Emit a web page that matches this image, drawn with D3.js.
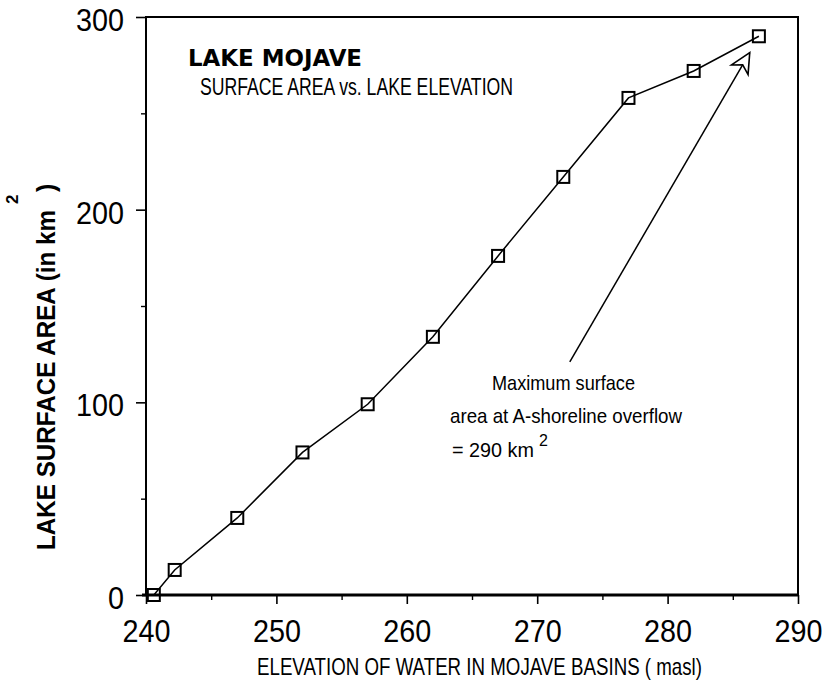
<!DOCTYPE html>
<html>
<head>
<meta charset="utf-8">
<script src="https://cdn.jsdelivr.net/npm/d3@7"></script>
<style>
  body { margin: 0; background: #fff; }
  svg { display: block; }
  .tick text { font-family: "Liberation Sans", "DejaVu Sans", sans-serif; fill: #000; }
  .lbl { font-family: "Liberation Sans", "DejaVu Sans", sans-serif; fill: #000; }
</style>
</head>
<body>
<div id="chart"></div>
<script>
// data
var elevation = [240.6, 242.2, 247, 252, 257, 262, 267, 272, 277, 282, 287];
var area = [0, 13, 40, 74, 99, 134, 176, 217, 258, 272, 290];

var xTicksMajor = [240, 250, 260, 270, 280, 290];
var xTicksMinor = [245, 255, 265, 275, 285];
var yTicksMajor = [0, 100, 200, 300];
var yTicksMinor = [50, 150, 250];

// annotation arrow (data units)
var arrowFrom = [272.5, 121];
var arrowTo = [286.3, 281.5];

var width = 829, height = 681;

var svg = d3.select("#chart").append("svg")
    .attr("width", width)
    .attr("height", height);

// set the ranges
var x = d3.scaleLinear().domain([240, 290]).range([146, 798]);
var y = d3.scaleLinear().domain([0, 300]).range([595, 17]);

// frame
svg.append("rect")
    .attr("x", x(240))
    .attr("y", y(300))
    .attr("width", x(290) - x(240))
    .attr("height", y(0) - y(300))
    .attr("fill", "none")
    .attr("stroke", "#000")
    .attr("stroke-width", 2);
// heavier bottom axis
svg.append("line")
    .attr("x1", x(240) - 4).attr("x2", x(290))
    .attr("y1", y(0)).attr("y2", y(0))
    .attr("stroke", "#000")
    .attr("stroke-width", 3);

// narrow digits like the original plotter font
function squeeze(sel) {
  sel.style("font-size", "31px")
     .attr("lengthAdjust", "spacingAndGlyphs")
     .attr("textLength", function(d) { return String(d).length * 16; });
}

// x axis
var xAxis = svg.append("g")
    .attr("transform", "translate(0," + y(0) + ")")
    .call(d3.axisBottom(x).tickValues(xTicksMajor).tickSize(9).tickPadding(16));
xAxis.select(".domain").remove();
xAxis.selectAll("line").attr("stroke-width", 1.6);
xAxis.selectAll("text").call(squeeze);

svg.append("g")
    .attr("transform", "translate(0," + y(0) + ")")
    .call(d3.axisBottom(x).tickValues(xTicksMinor).tickSize(5).tickFormat(""))
    .call(function(g) { g.select(".domain").remove(); })
    .selectAll("line").attr("stroke-width", 1.4);

// y axis
var yAxis = svg.append("g")
    .attr("transform", "translate(" + x(240) + ",0)")
    .call(d3.axisLeft(y).tickValues(yTicksMajor).tickSize(10).tickPadding(12));
yAxis.select(".domain").remove();
yAxis.selectAll("line").attr("stroke-width", 1.6);
yAxis.selectAll("text").call(squeeze).attr("dy", "0.44em");

svg.append("g")
    .attr("transform", "translate(" + x(240) + ",0)")
    .call(d3.axisLeft(y).tickValues(yTicksMinor).tickSize(5).tickFormat(""))
    .call(function(g) { g.select(".domain").remove(); })
    .selectAll("line").attr("stroke-width", 1.4);

// line
var pts = elevation.map(function(d, i) { return [d, area[i]]; });
svg.append("path")
    .datum(pts)
    .attr("fill", "none")
    .attr("stroke", "#000")
    .attr("stroke-width", 1.5)
    .attr("d", d3.line().x(function(d) { return x(d[0]); }).y(function(d) { return y(d[1]); }));

// square markers
svg.selectAll(".dot")
    .data(pts)
    .enter()
    .append("rect")
    .attr("class", "dot")
    .attr("x", function(d) { return x(d[0]) - 6; })
    .attr("y", function(d) { return y(d[1]) - 6; })
    .attr("width", 12)
    .attr("height", 12)
    .attr("fill", "none")
    .attr("stroke", "#000")
    .attr("stroke-width", 2);

// title
svg.append("text")
    .attr("class", "lbl")
    .attr("x", 188).attr("y", 66)
    .attr("textLength", 174)
    .attr("lengthAdjust", "spacingAndGlyphs")
    .style("font-family", "'DejaVu Sans', sans-serif")
    .style("font-weight", "bold")
    .style("font-size", "23px")
    .text("LAKE MOJAVE");
svg.append("text")
    .attr("class", "lbl")
    .attr("x", 200).attr("y", 95)
    .attr("textLength", 313)
    .attr("lengthAdjust", "spacingAndGlyphs")
    .style("font-size", "24px")
    .text("SURFACE AREA vs. LAKE ELEVATION");

// axis titles
svg.append("text")
    .attr("class", "lbl")
    .attr("x", 257).attr("y", 675)
    .attr("textLength", 445)
    .attr("lengthAdjust", "spacingAndGlyphs")
    .style("font-size", "24px")
    .text("ELEVATION OF WATER IN MOJAVE BASINS ( masl)");

var yTitle = svg.append("text")
    .attr("class", "lbl")
    .attr("transform", "translate(55,550) rotate(-90)")
    .style("font-size", "25px")
    .style("font-weight", "bold");
yTitle.append("tspan").attr("x", 0).attr("y", 0)
    .attr("textLength", 340).attr("lengthAdjust", "spacingAndGlyphs")
    .text("LAKE SURFACE AREA (in km");
yTitle.append("tspan").attr("x", 346).attr("y", -37).style("font-size", "17px").text("2");
yTitle.append("tspan").attr("x", 358).attr("y", 0).text(")");

// annotation
svg.append("line")
    .attr("x1", x(arrowFrom[0])).attr("y1", y(arrowFrom[1]))
    .attr("x2", x(arrowTo[0])).attr("y2", y(arrowTo[1]))
    .attr("stroke", "#000")
    .attr("stroke-width", 1.5);

var ax = x(arrowTo[0]), ay = y(arrowTo[1]);
var ang = Math.atan2(y(arrowFrom[1]) - ay, x(arrowFrom[0]) - ax);
function pt(len, off) {
  return [ax + len * Math.cos(ang + off), ay + len * Math.sin(ang + off)];
}
var head = [pt(0, 0), pt(22, 0.45), pt(14, 0), pt(22, -0.45)];
svg.append("path")
    .attr("d", "M" + head.join("L") + "Z")
    .attr("fill", "#fff")
    .attr("stroke", "#000")
    .attr("stroke-width", 1.6);

svg.append("text")
    .attr("class", "lbl")
    .attr("x", 492).attr("y", 390)
    .attr("textLength", 143).attr("lengthAdjust", "spacingAndGlyphs")
    .style("font-size", "21px")
    .text("Maximum surface");
svg.append("text")
    .attr("class", "lbl")
    .attr("x", 450).attr("y", 423)
    .attr("textLength", 232).attr("lengthAdjust", "spacingAndGlyphs")
    .style("font-size", "21px")
    .text("area at A-shoreline overflow");
var eq = svg.append("text")
    .attr("class", "lbl")
    .attr("x", 452).attr("y", 457)
    .style("font-size", "21px");
eq.append("tspan").attr("textLength", 82).attr("lengthAdjust", "spacingAndGlyphs").text("= 290 km");
eq.append("tspan").attr("x", 539).attr("y", 446).style("font-size", "16px").text("2");
</script>
</body>
</html>
